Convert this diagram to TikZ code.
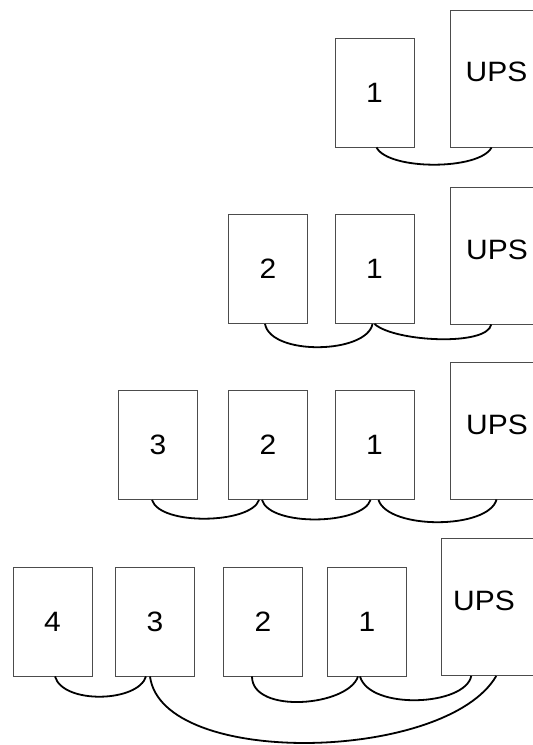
\documentclass[tikz,border=0pt]{standalone}
\usepackage{fontspec}
\newfontfamily\diagfont[FakeStretch=1.07]{Liberation Sans}
\begin{document}
\begin{tikzpicture}[x=1pt,y=-1pt,
  box/.style={draw=black!70,line width=0.9pt,minimum width=79pt,minimum height=109pt,inner sep=0pt,
    font=\diagfont\fontsize{28}{32}\selectfont},
  upsbox/.style={draw=black!70,line width=0.9pt,minimum width=110pt,minimum height=137pt,inner sep=0pt},
  upstext/.style={inner sep=0pt,font=\diagfont\fontsize{28}{32}\selectfont},
  cable/.style={draw=black,line width=1.8pt}]
\useasboundingbox (0,0) rectangle (533,745);
\clip (0,0) rectangle (533,745);
% Row 1
\node[box] (r1b1) at (374.5,92.5) {1};
\node[upsbox] (r1u) at (505,78.5) {};
\node[upstext] (r1ut) at (496.5,72) {UPS};
\draw[cable] ([xshift=2pt]r1b1.south) .. controls +(12,23) and +(-12,23) .. ([xshift=42pt]r1u.south west);
% Row 2
\node[box] (r2b2) at (268,269) {2};
\node[box] (r2b1) at (374.5,269) {1};
\node[upsbox] (r2u) at (505.7,255.5) {};
\node[upstext] (r2ut) at (497,249.5) {UPS};
\draw[cable] ([xshift=-3pt]r2b2.south) .. controls +(6,32) and +(-6,30) .. ([xshift=-2pt]r2b1.south);
\draw[cable] ([xshift=0pt]r2b1.south) .. controls +(20,18) and +(-4,22) .. ([xshift=41pt]r2u.south west);
% Row 3
\node[box] (r3b3) at (158,445) {3};
\node[box] (r3b2) at (268,445) {2};
\node[box] (r3b1) at (374.5,445) {1};
\node[upsbox] (r3u) at (505,430.5) {};
\node[upstext] (r3ut) at (497,424.5) {UPS};
\draw[cable] ([xshift=-6pt]r3b3.south) .. controls +(8,26) and +(-8,24) .. ([xshift=-9pt]r3b2.south);
\draw[cable] ([xshift=-6pt]r3b2.south) .. controls +(8,27) and +(-8,25) .. ([xshift=-4pt]r3b1.south);
\draw[cable] ([xshift=4pt]r3b1.south) .. controls +(10,30) and +(-8,30) .. ([xshift=47pt]r3u.south west);
% Row 4
\node[box] (r4b4) at (52.5,621.5) {4};
\node[box] (r4b3) at (155,621.5) {3};
\node[box] (r4b2) at (263,621.5) {2};
\node[box] (r4b1) at (367,621.5) {1};
\node[upsbox] (r4u) at (496.7,607) {};
\node[upstext] (r4ut) at (484,600.5) {UPS};
\draw[cable] ([xshift=2.5pt]r4b4.south) .. controls +(8,28) and +(-8,26) .. ([xshift=-9pt]r4b3.south);
\draw[cable] ([xshift=-11pt]r4b2.south) .. controls +(0,38) and +(-10,30) .. ([xshift=-9pt]r4b1.south);
\draw[cable] ([xshift=-7pt]r4b1.south) .. controls +(10,34) and +(-6,30) .. ([xshift=30pt]r4u.south west);
\draw[cable] ([xshift=-5pt]r4b3.south) .. controls +(12,92) and +(-50,86) .. ([xshift=55pt]r4u.south west);
\end{tikzpicture}
\end{document}
